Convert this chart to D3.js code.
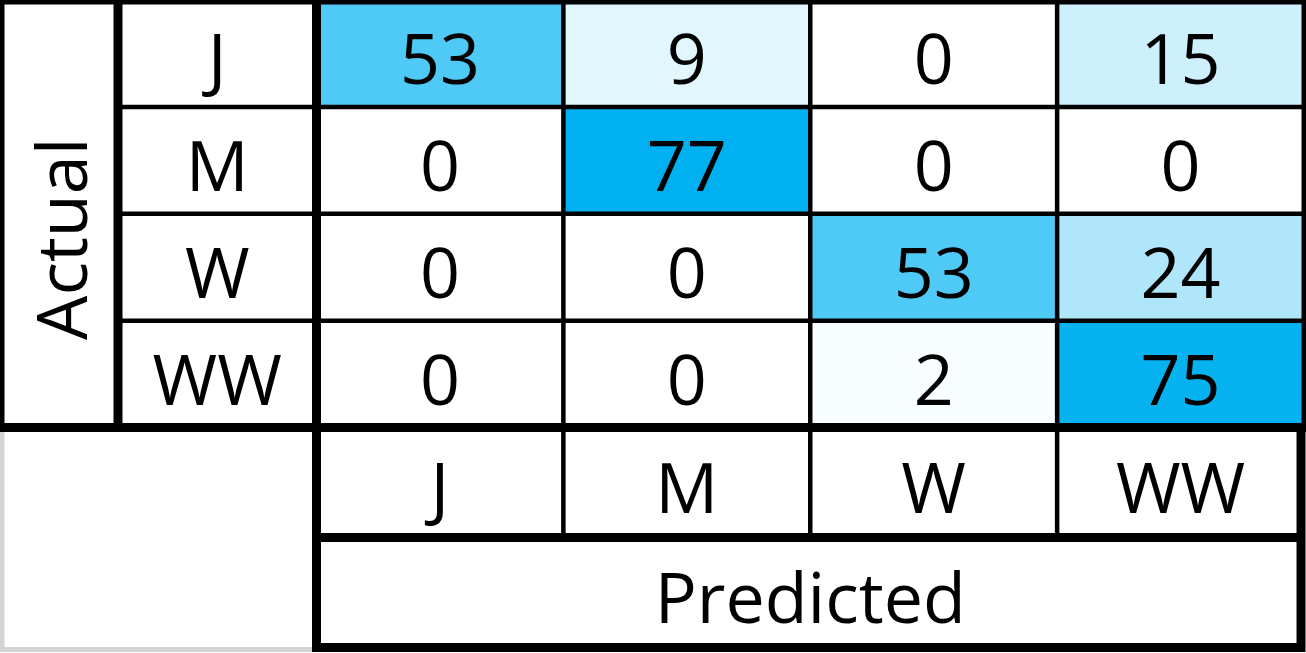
<!DOCTYPE html>
<html>
<head>
<meta charset="utf-8">
<script src="https://cdn.jsdelivr.net/npm/d3@7"></script>
<style>
  html, body { margin: 0; padding: 0; background: #fff; overflow: hidden; }
  text { font-family: "Open Sans", "Noto Sans", sans-serif; fill: #000; }
</style>
</head>
<body>
<div id="chart"></div>
<script>
var classes = ["J", "M", "W", "WW"];
// rows = actual, columns = predicted
var counts = [
    [53, 9, 0, 15],
    [0, 77, 0, 0],
    [0, 0, 53, 24],
    [0, 0, 2, 75]
];
var actualTitle = "Actual";
var predictedTitle = "Predicted";

const w = 1306;
const h = 653;
const fontSize = 70;
const thick = 9;
const thin = 4.5;

const svg = d3.select("#chart")
    .append("svg")
    .attr("width", w)
    .attr("height", h);

// layout
const titleCol = [0, 118];
const labelCol = [118, 316.5];
const matrixBottom = 427.5;
const labelRow = [matrixBottom, 537.5];
const titleRow = [537.5, 647.5];

const xScale = d3.scaleBand()
    .domain(classes)
    .range([labelCol[1], 1304]);

const yScale = d3.scaleBand()
    .domain(classes)
    .range([0, matrixBottom]);

const color = d3.scaleLinear()
    .domain([0, d3.max(counts, r => d3.max(r))])
    .range(["#ffffff", "#00b0f0"]);

var cells = [];
counts.forEach((row, i) => {
    row.forEach((v, j) => {
        cells.push({ actual: classes[i], predicted: classes[j], value: v });
    });
});

// light grey gridline of the empty corner
svg.append("path")
    .attr("d", "M2," + matrixBottom + "V649.5H" + labelCol[1])
    .attr("fill", "none")
    .attr("stroke", "#d4d4d4")
    .attr("stroke-width", 5);

// cells
svg.selectAll("rect.cell")
    .data(cells)
    .enter()
    .append("rect")
    .attr("class", "cell")
    .attr("x", d => xScale(d.predicted))
    .attr("y", d => yScale(d.actual))
    .attr("width", xScale.bandwidth())
    .attr("height", yScale.bandwidth())
    .attr("fill", d => color(d.value));

svg.selectAll("text.value")
    .data(cells)
    .enter()
    .append("text")
    .attr("class", "value")
    .attr("x", d => xScale(d.predicted) + xScale.bandwidth() / 2)
    .attr("y", d => yScale(d.actual) + yScale.bandwidth() / 2)
    .attr("dy", "0.44em")
    .attr("text-anchor", "middle")
    .style("font-size", fontSize + "px")
    .text(d => d.value);

// row labels (actual)
svg.selectAll("text.rowLabel")
    .data(classes)
    .enter()
    .append("text")
    .attr("class", "rowLabel")
    .attr("x", (labelCol[0] + labelCol[1]) / 2)
    .attr("y", d => yScale(d) + yScale.bandwidth() / 2)
    .attr("dy", "0.44em")
    .attr("text-anchor", "middle")
    .style("font-size", fontSize + "px")
    .text(d => d);

// column labels (predicted)
svg.selectAll("text.colLabel")
    .data(classes)
    .enter()
    .append("text")
    .attr("class", "colLabel")
    .attr("x", d => xScale(d) + xScale.bandwidth() / 2)
    .attr("y", (labelRow[0] + labelRow[1]) / 2)
    .attr("dy", "0.44em")
    .attr("text-anchor", "middle")
    .style("font-size", fontSize + "px")
    .text(d => d);

svg.append("text")
    .attr("x", (xScale.range()[0] + xScale.range()[1]) / 2)
    .attr("y", (titleRow[0] + titleRow[1]) / 2)
    .attr("dy", "0.44em")
    .attr("text-anchor", "middle")
    .style("font-size", fontSize + "px")
    .text(predictedTitle);

svg.append("text")
    .attr("transform", "translate(" + ((titleCol[0] + titleCol[1]) / 2 + 28) + "," + (matrixBottom / 2 + 25) + ") rotate(-90)")
    .attr("text-anchor", "middle")
    .style("font-size", fontSize + "px")
    .text(actualTitle);

// thin grid lines
const grid = svg.append("g")
    .attr("stroke", "#000")
    .attr("stroke-width", thin);

grid.selectAll("line.h")
    .data(classes.slice(1))
    .enter()
    .append("line")
    .attr("x1", labelCol[0])
    .attr("x2", w)
    .attr("y1", d => yScale(d))
    .attr("y2", d => yScale(d));

grid.selectAll("line.v")
    .data(classes.slice(1))
    .enter()
    .append("line")
    .attr("x1", d => xScale(d))
    .attr("x2", d => xScale(d))
    .attr("y1", 0)
    .attr("y2", labelRow[1]);

// thick frame lines
const frame = svg.append("g")
    .attr("stroke", "#000")
    .attr("stroke-width", thick)
    .attr("fill", "none");

frame.append("rect")
    .attr("x", 0)
    .attr("y", 0)
    .attr("width", w)
    .attr("height", matrixBottom);

frame.append("line")
    .attr("x1", titleCol[1]).attr("x2", titleCol[1])
    .attr("y1", 0).attr("y2", matrixBottom);

frame.append("line")
    .attr("x1", labelCol[1]).attr("x2", labelCol[1])
    .attr("y1", 0).attr("y2", titleRow[1]);

frame.append("rect")
    .attr("x", labelCol[1])
    .attr("y", matrixBottom)
    .attr("width", 1301 - labelCol[1])
    .attr("height", titleRow[1] - matrixBottom);

frame.append("line")
    .attr("x1", labelCol[1]).attr("x2", 1301)
    .attr("y1", labelRow[1]).attr("y2", labelRow[1]);
</script>
</body>
</html>
